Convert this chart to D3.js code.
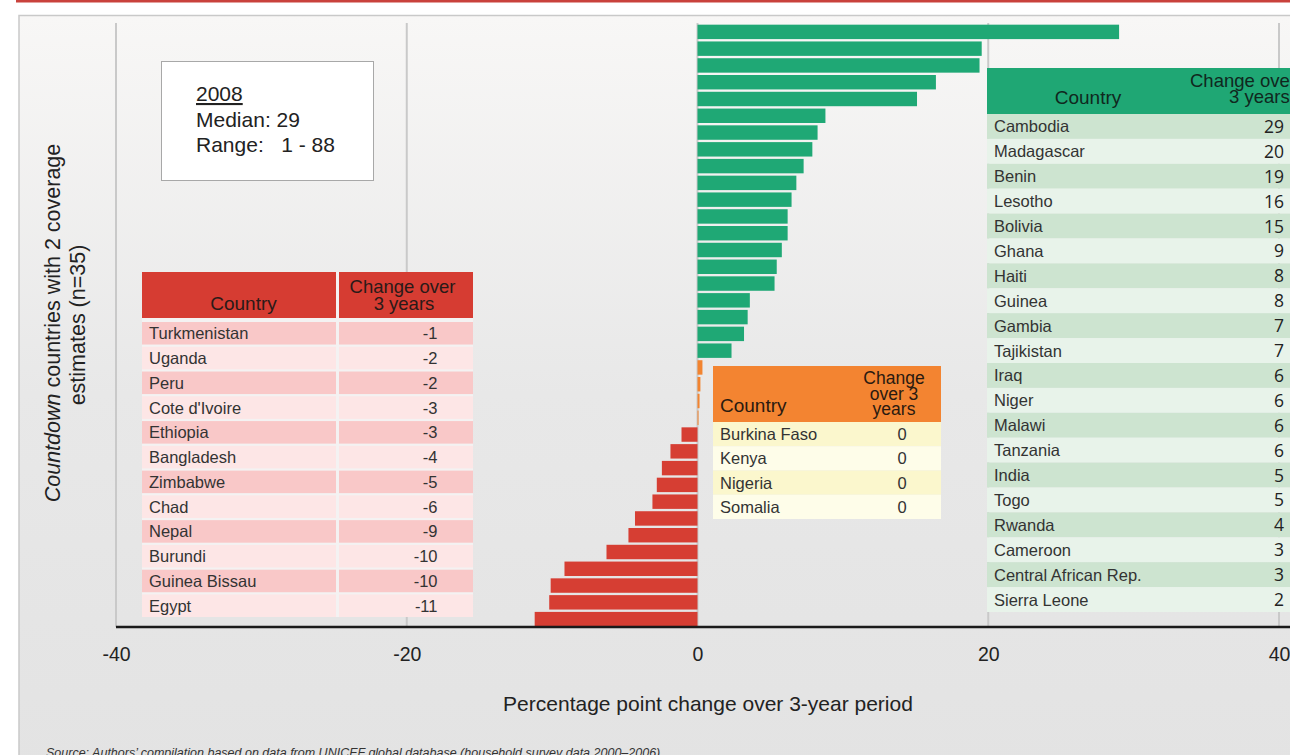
<!DOCTYPE html>
<html>
<head>
<meta charset="utf-8">
<script src="https://cdn.jsdelivr.net/npm/d3@7"></script>
<style>
  body { margin: 0; background: #fff; }
  svg { display: block; font-family: "Liberation Sans", Arial, sans-serif; }
</style>
</head>
<body>
<div id="chart"></div>
<script>
// values (bar lengths), tables show them rounded
const greenCountries = ["Cambodia", "Madagascar", "Benin", "Lesotho", "Bolivia", "Ghana", "Haiti", "Guinea",
    "Gambia", "Tajikistan", "Iraq", "Niger", "Malawi", "Tanzania", "India", "Togo", "Rwanda", "Cameroon",
    "Central African Rep.", "Sierra Leone"];
const greenChange = [29.0, 19.55, 19.4, 16.4, 15.1, 8.8, 8.26, 7.9, 7.3, 6.8, 6.47, 6.2, 6.2, 5.8, 5.45, 5.3,
    3.6, 3.45, 3.2, 2.34];

const orangeCountries = ["Burkina Faso", "Kenya", "Nigeria", "Somalia"];
const orangeChange = [0.34, 0.2, 0.14, 0.07];

const redCountries = ["Turkmenistan", "Uganda", "Peru", "Cote d'Ivoire", "Ethiopia", "Bangladesh", "Zimbabwe",
    "Chad", "Nepal", "Burundi", "Guinea Bissau", "Egypt"];
const redChange = [-1.1, -1.86, -2.45, -2.8, -3.1, -4.3, -4.75, -6.26, -9.15, -10.1, -10.2, -11.2];

const xTicks = [-40, -20, 0, 20, 40];

const W = 1290, H = 755;
const colors = {green: "#1fa875", orange: "#f28430", red: "#d63e33"};

let bars = [];
greenCountries.forEach(function(c, i) { bars.push({country: c, value: greenChange[i], group: "green"}); });
orangeCountries.forEach(function(c, i) { bars.push({country: c, value: orangeChange[i], group: "orange"}); });
redCountries.forEach(function(c, i) { bars.push({country: c, value: redChange[i], group: "red"}); });

let svg = d3.select("#chart").append("svg")
    .attr("width", W)
    .attr("height", H);

// panel background
let grad = svg.append("defs").append("linearGradient")
    .attr("id", "bg").attr("x1", 0).attr("y1", 0).attr("x2", 0).attr("y2", 1);
grad.append("stop").attr("offset", 0).attr("stop-color", "#f8f7f6");
grad.append("stop").attr("offset", 0.5).attr("stop-color", "#e8e8e8");
grad.append("stop").attr("offset", 1).attr("stop-color", "#e3e3e3");

svg.append("rect")
    .attr("x", 0).attr("y", 0).attr("width", W).attr("height", H)
    .attr("fill", "#fff");
svg.append("rect")
    .attr("x", 16).attr("y", 0).attr("width", W - 16).attr("height", 2.5)
    .attr("fill", "#c9423c");
svg.append("rect")
    .attr("x", 19).attr("y", 15.5).attr("width", W).attr("height", H)
    .attr("fill", "url(#bg)")
    .attr("stroke", "#c9c9c9")
    .attr("stroke-width", 1.5);

let x = d3.scaleLinear()
    .domain([-40, 40])
    .range([116, 1279]);

let y = d3.scaleBand()
    .domain(d3.range(bars.length))
    .range([24, 627])
    .paddingInner(0.14)
    .paddingOuter(0.04);

// grid lines
svg.append("g").selectAll("line")
    .data(xTicks)
    .enter().append("line")
    .attr("x1", function(d) { return x(d); })
    .attr("x2", function(d) { return x(d); })
    .attr("y1", 23)
    .attr("y2", 627)
    .attr("stroke", "#c9c9c9")
    .attr("stroke-width", 2);

// bars
svg.append("g").selectAll("rect")
    .data(bars)
    .enter().append("rect")
    .attr("x", function(d) { return x(Math.min(0, d.value)); })
    .attr("width", function(d) { return Math.abs(x(d.value) - x(0)); })
    .attr("y", function(_, i) { return y(i); })
    .attr("height", y.bandwidth())
    .attr("fill", function(d) { return colors[d.group]; });

// x axis
let axis = svg.append("g")
    .attr("transform", "translate(0,627)")
    .call(d3.axisBottom(x).tickValues(xTicks).tickSize(0).tickPadding(0)
        .tickFormat(function(d) { return String(d); }));
axis.select(".domain").remove();
axis.selectAll("text")
    .attr("y", 34)
    .attr("dy", 0)
    .attr("font-size", 19.5)
    .attr("font-family", "Liberation Sans, Arial, sans-serif")
    .attr("fill", "#222");
svg.append("line")
    .attr("x1", x(-40)).attr("x2", W)
    .attr("y1", 627).attr("y2", 627)
    .attr("stroke", "#1a1a1a")
    .attr("stroke-width", 2.5);

svg.append("text")
    .attr("x", 708).attr("y", 711)
    .attr("text-anchor", "middle")
    .attr("font-size", 21)
    .attr("fill", "#222")
    .text("Percentage point change over 3-year period");

// y label
let ylab = svg.append("text")
    .attr("transform", "translate(60,323) rotate(-90)")
    .attr("text-anchor", "middle")
    .attr("font-size", 21.5)
    .attr("fill", "#222");
ylab.append("tspan").attr("font-style", "italic").text("Countdown");
ylab.append("tspan").text(" countries with 2 coverage");
svg.append("text")
    .attr("transform", "translate(85,325) rotate(-90)")
    .attr("text-anchor", "middle")
    .attr("font-size", 21.5)
    .attr("fill", "#222")
    .text("estimates (n=35)");

// source
svg.append("text")
    .attr("x", 46).attr("y", 757)
    .attr("font-size", 12.5)
    .attr("font-style", "italic")
    .attr("fill", "#333")
    .text("Source: Authors\u2019 compilation based on data from UNICEF global database (household survey data 2000\u20132006).");

// 2008 box
let box = svg.append("g");
box.append("rect")
    .attr("x", 161.5).attr("y", 61.5).attr("width", 212).attr("height", 119)
    .attr("fill", "#fff")
    .attr("stroke", "#a8a8a8");
box.append("text").attr("x", 196).attr("y", 101).attr("font-size", 21).attr("fill", "#222")
    .attr("text-decoration", "underline").text("2008");
box.append("text").attr("x", 196).attr("y", 126.5).attr("font-size", 21).attr("fill", "#222")
    .text("Median: 29");
box.append("text").attr("x", 196).attr("y", 151.5).attr("font-size", 21).attr("fill", "#222")
    .attr("xml:space", "preserve").text("Range:   1 - 88");

// ---- tables ----
let fmt = function(v) { return String(Math.round(v) === 0 ? 0 : Math.round(v)); };

// red table
let red = svg.append("g");
red.append("rect").attr("x", 142).attr("y", 272).attr("width", 331).attr("height", 345).attr("fill", "#f4f2f2");
red.append("rect").attr("x", 142).attr("y", 272).attr("width", 194).attr("height", 46).attr("fill", "#d63c32");
red.append("rect").attr("x", 339).attr("y", 272).attr("width", 134).attr("height", 46).attr("fill", "#d63c32");
red.append("text").attr("x", 243.5).attr("y", 310).attr("text-anchor", "middle").attr("font-size", 19)
    .attr("fill", "#2a1a18").text("Country");
red.append("text").attr("x", 402.5).attr("y", 293).attr("text-anchor", "middle").attr("font-size", 18.5)
    .attr("fill", "#2a1a18").text("Change over");
red.append("text").attr("x", 404).attr("y", 310).attr("text-anchor", "middle").attr("font-size", 18.5)
    .attr("fill", "#2a1a18").text("3 years");

let redRow = d3.scaleBand().domain(d3.range(redCountries.length)).range([322, 617]).paddingInner(0.09);
let rr = red.selectAll(".rrow").data(redCountries).enter().append("g").attr("class", "rrow");
rr.append("rect").attr("x", 142).attr("width", 194)
    .attr("y", function(_, i) { return redRow(i); }).attr("height", redRow.bandwidth())
    .attr("fill", function(_, i) { return i % 2 ? "#fde6e6" : "#f9c8c8"; });
rr.append("rect").attr("x", 339).attr("width", 134)
    .attr("y", function(_, i) { return redRow(i); }).attr("height", redRow.bandwidth())
    .attr("fill", function(_, i) { return i % 2 ? "#fde6e6" : "#f9c8c8"; });
rr.append("text").attr("x", 149)
    .attr("y", function(_, i) { return redRow(i) + redRow.bandwidth() / 2 + 6; })
    .attr("font-size", 16.5).attr("fill", "#333")
    .text(function(d) { return d; });
rr.append("text").attr("x", 437.5).attr("text-anchor", "end")
    .attr("y", function(_, i) { return redRow(i) + redRow.bandwidth() / 2 + 6; })
    .attr("font-size", 16.5).attr("fill", "#333")
    .text(function(_, i) { return fmt(redChange[i]); });

// orange table
let org = svg.append("g");
org.append("rect").attr("x", 713).attr("y", 366).attr("width", 228).attr("height", 56).attr("fill", "#f38431");
org.append("text").attr("x", 720).attr("y", 411.5).attr("font-size", 19).attr("fill", "#2a1a10").text("Country");
org.selectAll(".oh").data(["Change", "over 3", "years"]).enter().append("text")
    .attr("x", 894).attr("y", function(_, i) { return 384 + i * 15.5; })
    .attr("text-anchor", "middle").attr("font-size", 17.5).attr("fill", "#2a1a10")
    .text(function(d) { return d; });
let orgRow = d3.scaleBand().domain(d3.range(orangeCountries.length)).range([422, 519]);
let orr = org.selectAll(".orow").data(orangeCountries).enter().append("g");
orr.append("rect").attr("x", 713).attr("width", 228)
    .attr("y", function(_, i) { return orgRow(i); }).attr("height", orgRow.bandwidth())
    .attr("fill", function(_, i) { return i % 2 ? "#fefde9" : "#fbf7cd"; });
orr.append("text").attr("x", 720)
    .attr("y", function(_, i) { return orgRow(i) + orgRow.bandwidth() / 2 + 6; })
    .attr("font-size", 16.5).attr("fill", "#333")
    .text(function(d) { return d; });
orr.append("text").attr("x", 902).attr("text-anchor", "middle")
    .attr("y", function(_, i) { return orgRow(i) + orgRow.bandwidth() / 2 + 6; })
    .attr("font-size", 16.5).attr("fill", "#333")
    .text(function(_, i) { return fmt(orangeChange[i]); });

// green table
let grn = svg.append("g");
grn.append("rect").attr("x", 987).attr("y", 68).attr("width", 320).attr("height", 46).attr("fill", "#1fa774");
grn.append("text").attr("x", 1088).attr("y", 104).attr("text-anchor", "middle").attr("font-size", 19)
    .attr("fill", "#10281e").text("Country");
grn.append("text").attr("x", 1190).attr("y", 87).attr("font-size", 18.5)
    .attr("fill", "#10281e").text("Change over");
grn.append("text").attr("x", 1229).attr("y", 103).attr("font-size", 18.5)
    .attr("fill", "#10281e").text("3 years");
let grnRow = d3.scaleBand().domain(d3.range(greenCountries.length)).range([114, 612]);
let gr = grn.selectAll(".grow").data(greenCountries).enter().append("g");
gr.append("rect").attr("x", 987).attr("width", 320)
    .attr("y", function(_, i) { return grnRow(i); }).attr("height", grnRow.bandwidth())
    .attr("fill", function(_, i) { return i % 2 ? "#e8f3ea" : "#cde4d0"; });
gr.append("text").attr("x", 994)
    .attr("y", function(_, i) { return grnRow(i) + grnRow.bandwidth() / 2 + 6; })
    .attr("font-size", 16.5).attr("fill", "#333")
    .text(function(d) { return d; });
gr.append("text").attr("x", 1284).attr("text-anchor", "end")
    .attr("y", function(_, i) { return grnRow(i) + grnRow.bandwidth() / 2 + 6.5; })
    .attr("font-size", 17.5).attr("font-family", "Open Sans, sans-serif").attr("fill", "#222")
    .text(function(_, i) { return fmt(greenChange[i]); });
</script>
</body>
</html>
